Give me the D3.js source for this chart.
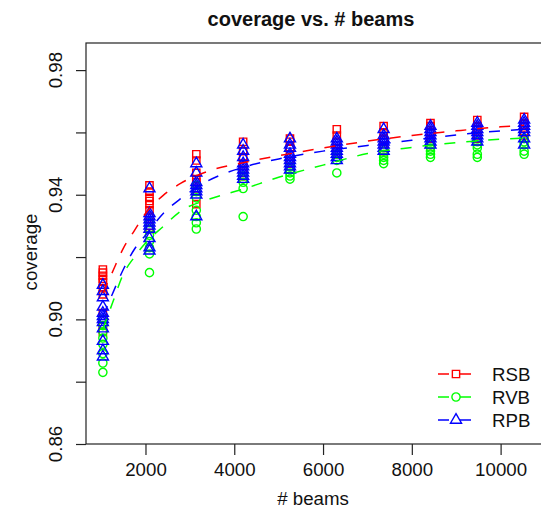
<!DOCTYPE html>
<html>
<head>
<meta charset="utf-8">
<script src="https://cdn.jsdelivr.net/npm/d3@7"></script>
<style>
    body { margin: 0; background: #fff; }
    svg { font-family: "Liberation Sans", Arial, Helvetica, sans-serif; }
</style>
</head>
<body>
<div id="chart"></div>
<script>
    // beam counts (x columns)
    var beams = [1040, 2090, 3145, 4200, 5255, 6310, 7365, 8420, 9475, 10530];

    // coverage values per column
    var rsb = [
        [0.916, 0.915, 0.914, 0.913, 0.912, 0.910, 0.908, 0.902, 0.900, 0.898, 0.896],
        [0.943, 0.941, 0.939, 0.938, 0.937, 0.935, 0.933, 0.931, 0.930, 0.929],
        [0.953, 0.951, 0.947, 0.945, 0.944, 0.943, 0.942, 0.941, 0.937],
        [0.957, 0.954, 0.952, 0.950, 0.948, 0.947, 0.946],
        [0.958, 0.957, 0.955, 0.953, 0.951, 0.950, 0.949],
        [0.961, 0.959, 0.957, 0.955, 0.954, 0.953],
        [0.962, 0.960, 0.958, 0.957, 0.955, 0.954],
        [0.963, 0.962, 0.960, 0.958, 0.957, 0.956],
        [0.964, 0.962, 0.961, 0.959, 0.958, 0.957],
        [0.965, 0.963, 0.962, 0.960, 0.959, 0.958]
    ];
    var rvb = [
        [0.900, 0.898, 0.896, 0.894, 0.892, 0.889, 0.886, 0.883],
        [0.931, 0.929, 0.927, 0.925, 0.923, 0.921, 0.915],
        [0.943, 0.941, 0.939, 0.935, 0.933, 0.931, 0.929],
        [0.946, 0.945, 0.944, 0.942, 0.933],
        [0.949, 0.948, 0.947, 0.946, 0.945],
        [0.953, 0.952, 0.951, 0.947],
        [0.954, 0.953, 0.952, 0.951, 0.950],
        [0.956, 0.955, 0.954, 0.953, 0.952],
        [0.957, 0.956, 0.955, 0.953, 0.952],
        [0.958, 0.957, 0.956, 0.954, 0.953]
    ];
    var rpb = [
        [0.911, 0.909, 0.907, 0.904, 0.902, 0.901, 0.900, 0.899, 0.897, 0.893, 0.890, 0.888],
        [0.942, 0.934, 0.933, 0.932, 0.931, 0.930, 0.929, 0.926, 0.923, 0.922],
        [0.950, 0.947, 0.944, 0.943, 0.942, 0.941, 0.940, 0.933],
        [0.956, 0.954, 0.952, 0.950, 0.949, 0.948, 0.947, 0.946, 0.945],
        [0.958, 0.956, 0.955, 0.953, 0.952, 0.951, 0.950, 0.949, 0.948],
        [0.958, 0.957, 0.956, 0.955, 0.954, 0.953, 0.952, 0.951],
        [0.961, 0.959, 0.958, 0.957, 0.956, 0.955, 0.954],
        [0.962, 0.961, 0.960, 0.959, 0.958, 0.957, 0.956],
        [0.963, 0.962, 0.961, 0.960, 0.959, 0.958, 0.957],
        [0.964, 0.963, 0.962, 0.961, 0.960, 0.958, 0.956]
    ];

    // dashed fitted curves
    var fitBeams = [1040, 1250, 1500, 1750, 2000, 2400, 2800, 3400, 4200, 5000, 6000, 7000, 8000, 9000, 10000, 10530];
    var rsbFit = [0.9084, 0.915, 0.9228, 0.9285, 0.934, 0.9398, 0.9437, 0.9475, 0.9503, 0.9525, 0.955, 0.9572, 0.959, 0.9605, 0.9618, 0.9623];
    var rvbFit = [0.8968, 0.905, 0.9145, 0.920, 0.9245, 0.9298, 0.9348, 0.9384, 0.9418, 0.9456, 0.9495, 0.9532, 0.9552, 0.9567, 0.9578, 0.9582];
    var rpbFit = [0.901, 0.908, 0.916, 0.9225, 0.927, 0.934, 0.9388, 0.9444, 0.9488, 0.9515, 0.954, 0.9558, 0.9575, 0.9592, 0.9605, 0.961];

    var seriesNames = ["RSB", "RVB", "RPB"];
    var seriesColors = ["#ff0000", "#00ff00", "#0000ff"];
    var xTicks = [2000, 4000, 6000, 8000, 10000];
    var yTicks = [0.86, 0.88, 0.90, 0.92, 0.94, 0.96, 0.98];
    var yLabels = [0.86, 0.90, 0.94, 0.98];

    var width = 541, height = 509;
    var plotLeft = 86, plotRight = 541, plotTop = 43, plotBottom = 444;

    var x = d3.scaleLinear().domain([660, 10910]).range([plotLeft, plotRight]);
    var y = d3.scaleLinear().domain([0.86, 0.9887]).range([plotBottom, plotTop]);

    var svg = d3.select("#chart").append("svg")
        .attr("width", width)
        .attr("height", height);

    // R-like plotting symbols, size = symbol radius in px
    var shapes = [
        { draw: function(ctx, r) { var h = r * 0.886; ctx.rect(-h, -h, 2 * h, 2 * h); } },
        { draw: function(ctx, r) { ctx.moveTo(r, 0); ctx.arc(0, 0, r, 0, 2 * Math.PI); } },
        { draw: function(ctx, r) {
            ctx.moveTo(0, -1.555 * r);
            ctx.lineTo(1.347 * r, 0.778 * r);
            ctx.lineTo(-1.347 * r, 0.778 * r);
            ctx.closePath();
        } }
    ];
    var symRadius = 4.1;

    var series = [rsb, rvb, rpb];
    var fits = [rsbFit, rvbFit, rpbFit];

    /* ------- POINTS -------*/
    series.forEach(function(cols, si) {
        var pts = [];
        cols.forEach(function(vals, ci) {
            vals.forEach(function(v) { pts.push([beams[ci], v]); });
        });
        svg.append("g").selectAll("path")
            .data(pts)
            .enter().append("path")
            .attr("d", d3.symbol().type(shapes[si]).size(symRadius))
            .attr("transform", function(d) { return "translate(" + x(d[0]) + "," + y(d[1]) + ")"; })
            .style("fill", "none")
            .style("stroke", seriesColors[si])
            .style("stroke-width", 1.4);
    });

    /* ------- FITTED CURVES -------*/
    var line = d3.line()
        .x(function(d) { return x(d[0]); })
        .y(function(d) { return y(d[1]); })
        .curve(d3.curveMonotoneX);

    fits.forEach(function(vals, si) {
        svg.append("path")
            .attr("d", line(fitBeams.map(function(b, i) { return [b, vals[i]]; })))
            .style("fill", "none")
            .style("stroke", seriesColors[si])
            .style("stroke-width", 1.5)
            .style("stroke-dasharray", "11,11");
    });

    /* ------- BOX AND AXES -------*/
    // right edge of the box falls just outside the picture
    svg.append("rect")
        .attr("x", plotLeft).attr("y", plotTop)
        .attr("width", plotRight + 2 - plotLeft).attr("height", plotBottom - plotTop)
        .style("fill", "none").style("stroke", "#222").style("stroke-width", 1.2);

    var xAxis = svg.append("g").attr("transform", "translate(0," + plotBottom + ")")
        .call(d3.axisBottom(x).tickValues(xTicks).tickSize(11).tickPadding(8).tickFormat(d3.format("d")));
    var yAxis = svg.append("g").attr("transform", "translate(" + plotLeft + ",0)")
        .call(d3.axisLeft(y).tickValues(yTicks).tickSize(10).tickFormat(""));
    [xAxis, yAxis].forEach(function(a) {
        a.select(".domain").remove();
        a.selectAll("line").style("stroke", "#222").style("stroke-width", 1.2);
    });
    xAxis.selectAll("text")
        .style("font-size", "18.7px").style("fill", "#111")
        .style("font-family", "'Liberation Sans', Arial, sans-serif");

    svg.append("g").selectAll("text")
        .data(yLabels)
        .enter().append("text")
        .attr("transform", function(d) { return "translate(62," + y(d) + ") rotate(-90)"; })
        .attr("text-anchor", "middle")
        .style("font-size", "18.7px").style("fill", "#111")
        .text(function(d) { return d3.format(".2f")(d); });

    /* ------- TITLES -------*/
    svg.append("text")
        .attr("x", 311).attr("y", 26)
        .attr("text-anchor", "middle")
        .style("font-size", "20px").style("font-weight", "bold").style("fill", "#111")
        .text("coverage vs. # beams");

    svg.append("text")
        .attr("x", 313).attr("y", 505)
        .attr("text-anchor", "middle")
        .style("font-size", "18.7px").style("fill", "#111")
        .text("# beams");

    svg.append("text")
        .attr("transform", "translate(37,252) rotate(-90)")
        .attr("text-anchor", "middle")
        .style("font-size", "18.7px").style("fill", "#111")
        .text("coverage");

    /* ------- LEGEND -------*/
    var legend = svg.append("g").selectAll("g")
        .data(seriesNames)
        .enter().append("g")
        .attr("transform", function(d, i) { return "translate(0," + (374 + i * 23) + ")"; });
    legend.append("line")
        .attr("x1", 438).attr("x2", 473)
        .style("stroke", function(d, i) { return seriesColors[i]; })
        .style("stroke-width", 1.5)
        .style("stroke-dasharray", "11,11");
    legend.append("path")
        .attr("d", function(d, i) { return d3.symbol().type(shapes[i]).size(symRadius)(); })
        .attr("transform", "translate(456,0)")
        .style("fill", "none")
        .style("stroke", function(d, i) { return seriesColors[i]; })
        .style("stroke-width", 1.4);
    legend.append("text")
        .attr("x", 492).attr("y", 6.5)
        .style("font-size", "18.7px").style("fill", "#111")
        .text(function(d) { return d; });
</script>
</body>
</html>
